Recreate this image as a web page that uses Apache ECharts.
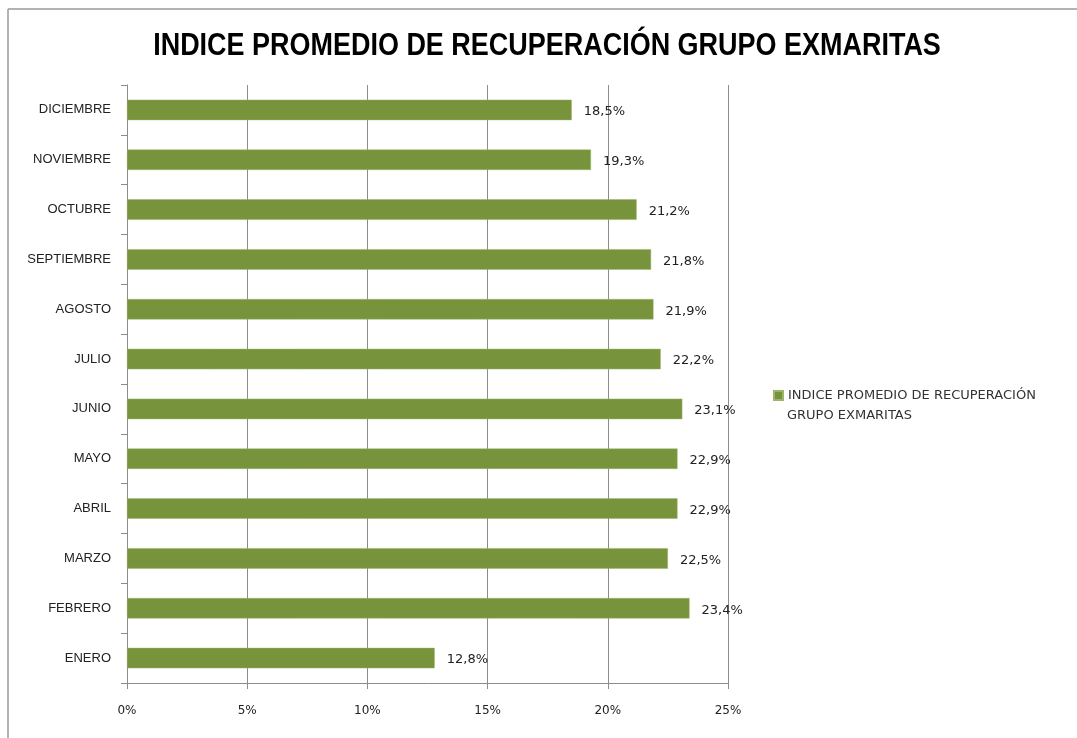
<!DOCTYPE html>
<html>
<head>
<meta charset="utf-8">
<script src="https://cdn.jsdelivr.net/npm/echarts@6/dist/echarts.min.js"></script>
<style>html,body{margin:0;padding:0;background:#fff;}#c{width:1077px;height:738px;}</style>
</head>
<body>
<div id="c"></div>
<script>
const categories = ['ENERO','FEBRERO','MARZO','ABRIL','MAYO','JUNIO','JULIO','AGOSTO','SEPTIEMBRE','OCTUBRE','NOVIEMBRE','DICIEMBRE'];
const values = [12.8, 23.4, 22.5, 22.9, 22.9, 23.1, 22.2, 21.9, 21.8, 21.2, 19.3, 18.5];
const seriesName = 'INDICE PROMEDIO DE RECUPERACIÓN';
const seriesNameLine2 = 'GRUPO EXMARITAS';
const titleText = 'INDICE PROMEDIO DE RECUPERACIÓN GRUPO EXMARITAS';

const chart = echarts.init(document.getElementById('c'));
chart.setOption({
  animation: false,
  backgroundColor: '#fff',
  legend: {
    left: 768, top: 384,
    itemWidth: 9, itemHeight: 9, itemGap: 5,
    icon: 'rect',
    textStyle: { fontFamily: '"DejaVu Sans", sans-serif', fontSize: 13, color: '#333' }
  },
  grid: { left: 127, right: 349, top: 85, bottom: 55, containLabel: false },
  xAxis: {
    type: 'value', min: 0, max: 25, interval: 5,
    axisLine: { show: true, lineStyle: { color: '#8c8c8c' } },
    axisTick: { show: true, length: 6, lineStyle: { color: '#8c8c8c' } },
    splitLine: { show: true, lineStyle: { color: '#8c8c8c' } },
    axisLabel: { formatter: v => v + '%', margin: 22, fontFamily: '"DejaVu Sans", sans-serif', fontSize: 12, color: '#222' }
  },
  yAxis: {
    type: 'category', data: categories,
    axisLine: { show: true, lineStyle: { color: '#8c8c8c' } },
    axisTick: { show: true, length: 6, alignWithLabel: false, lineStyle: { color: '#8c8c8c' } },
    axisLabel: { margin: 16, fontFamily: '"Liberation Sans", sans-serif', fontSize: 13, color: '#222' }
  },
  series: [{
    name: seriesName,
    type: 'bar',
    data: values,
    barWidth: '41%',
    itemStyle: { color: '#77933C', borderColor: '#9db56a', borderWidth: 0.5 },
    label: {
      show: true, position: 'right', distance: 12,
      formatter: p => p.value.toFixed(1).replace('.', ',') + '%',
      fontFamily: '"DejaVu Sans", sans-serif', fontSize: 13, color: '#222', offset: [0, 2]
    }
  }],
  graphic: [
    { type: 'line', shape: { x1: 8, y1: 9, x2: 1077, y2: 9 }, style: { stroke: '#9a9a9a', lineWidth: 1.5 } },
    { type: 'line', shape: { x1: 8, y1: 9, x2: 8, y2: 738 }, style: { stroke: '#9a9a9a', lineWidth: 1.5 } },
    { type: 'text', x: 547, y: 46, scaleX: 0.87, originX: 0, originY: 0,
      style: { text: titleText, x: 0, y: 0, align: 'center', verticalAlign: 'middle',
               font: 'bold 31px "Liberation Sans", sans-serif', fill: '#000' } },
    { type: 'text', x: 787, y: 416,
      style: { text: seriesNameLine2, align: 'left', verticalAlign: 'middle',
               font: '13px "DejaVu Sans", sans-serif', fill: '#333' } }
  ]
});
</script>
</body>
</html>
